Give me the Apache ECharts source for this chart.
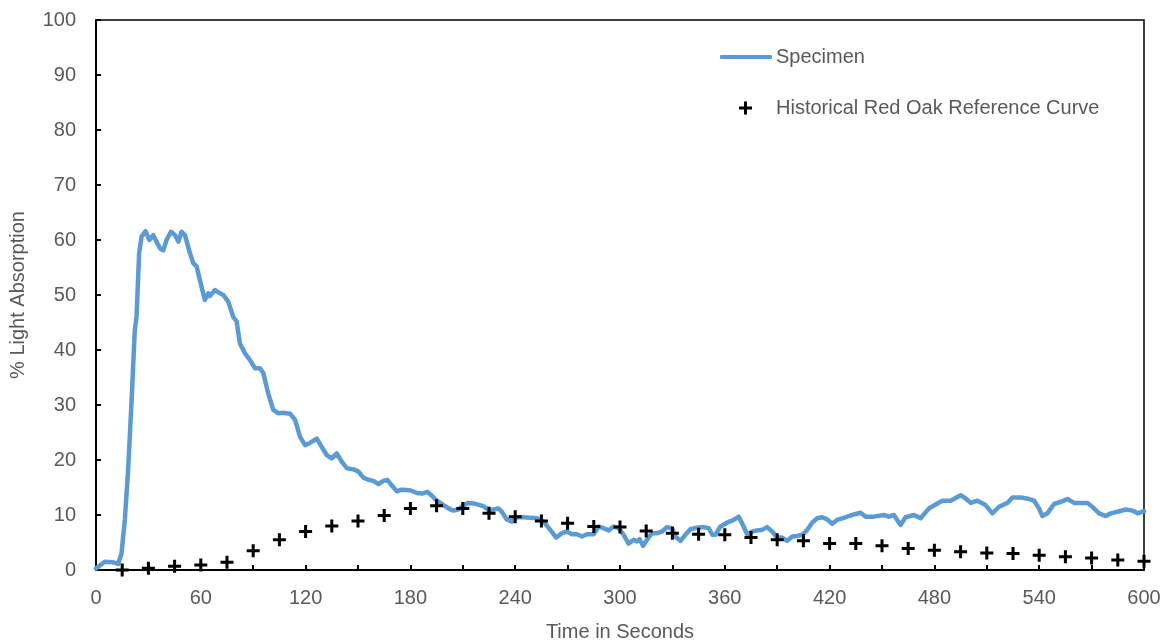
<!DOCTYPE html>
<html>
<head>
<meta charset="utf-8">
<script src="https://cdn.jsdelivr.net/npm/echarts@6/dist/echarts.min.js"></script>
<style>html,body{margin:0;padding:0;background:#fff}#c{width:1172px;height:644px}</style>
</head>
<body>
<div id="c"></div>
<script>
// Specimen curve: [time (s), % light absorption]
const specimenTimes = [0,5,9.8,12.7,14.6,16.5,18.4,20.3,22.2,23.2,24.7,26.1,28.4,30.5,32.7,36.6,38.5,40.4,42.9,45.2,47.2,49,50.9,53.8,55.7,57.6,59.5,62.3,64.3,65.2,68.1,71,72.9,75.7,78.6,80.5,82.4,85.3,88.1,91,93.9,95.8,98.6,101.5,104.4,107.2,111.1,114,116.8,119.7,122.5,126.4,129.2,132.1,135,137.8,140.7,143.6,147.4,150.2,153.1,155.9,158.8,161.7,164.5,166.8,169.3,172.2,175,179.8,183.7,186.5,189.8,192.3,195.1,199,201.8,204.6,207.5,210.4,213.2,216.1,221.8,224.7,227.6,230.4,232.3,235.2,238.1,240.9,244.7,248.6,252.4,256.2,260.1,263.5,266.8,269.6,272.5,275.4,278.2,281.1,284.9,287.8,290.6,293.5,296.3,299.2,302.1,304.9,307.8,309.7,311.2,313.2,315.5,318.3,321.2,324.1,326.9,329.8,331.7,334.6,337.4,340.3,344.1,348,350.8,352.8,354.6,357.5,361.3,365.1,368,369.9,372.8,375.7,378.5,381.4,384.2,387.1,390,392.8,395.7,398.6,401.4,404.3,407.2,410,412.9,415.8,418.6,421.5,424.3,427.2,430.1,433.9,437.7,440.6,445.3,451.1,453.9,456.8,460.6,463.5,468.3,472.1,476.9,481.7,484.5,489.3,495,497.9,500.8,504.6,509.3,513.2,517,521.8,524.7,529.4,534.2,537.1,539.9,541.8,544.7,548.5,552.3,556.2,560,563.8,567.7,571.4,574.3,578.1,581,584.8,589.6,593.4,596.3,600];
const specimenValues = [0.3,1.5,1.4,1.1,3.0,9.1,18.2,30.3,43.6,46,57.6,60.6,61.6,60,60.9,58.5,58.1,60,61.5,60.9,59.7,61.5,60.9,57.6,55.8,55.2,52.7,49.1,50.3,49.8,50.9,50.3,50,48.8,46,45.2,41.2,39.4,38.2,36.7,36.7,35.8,32.1,29.1,28.5,28.6,28.4,27.3,24.2,22.7,23.1,23.9,22.4,20.9,20.3,21.2,19.7,18.5,18.3,17.9,16.8,16.4,16.2,15.6,16.2,16.4,15.4,14.3,14.6,14.5,14.0,13.9,14.2,13.5,12.6,11.8,11.2,10.8,11,11.8,12.2,12.1,11.6,10.9,11,11.2,10.6,9.2,8.8,9.6,9.6,9.5,9.4,8.8,7.3,5.9,6.7,7.0,6.5,6.5,6.1,6.5,6.5,7.9,7.6,7.2,7.9,7.6,6.4,4.8,5.5,5.2,5.6,4.4,5.5,6.7,6.7,7.0,7.8,7.6,6.1,5.3,6.4,7.4,7.7,7.8,7.6,6.4,6.4,7.9,8.6,9.1,9.7,8.5,6.5,7.0,7.2,7.3,7.8,7.0,5.9,5.9,5.3,6.1,6.2,6.4,7.3,8.6,9.4,9.6,9.2,8.4,9.1,9.4,9.7,10.1,10.4,9.7,9.7,10.0,9.7,10.0,8.2,9.6,10.0,9.4,11.2,12.1,12.6,12.6,13.6,13.0,12.2,12.6,11.8,10.3,11.5,12.2,13.2,13.2,12.9,12.6,11.2,9.8,10.3,12,12.4,12.9,12.2,12.2,12.2,11.2,10.3,9.8,10.3,10.6,11.0,10.8,10.3,10.7];

// Historical reference curve, every 15 s
const refTimes = [15,30,45,60,75,90,105,120,135,150,165,180,195,210,225,240,255,270,285,300,315,330,345,360,375,390,405,420,435,450,465,480,495,510,525,540,555,570,585,600];
const refValues = [0,0.3,0.7,0.9,1.4,3.5,5.5,7.0,8.0,8.9,9.9,11.2,11.7,11.2,10.3,9.7,8.9,8.5,7.9,7.8,7.1,6.7,6.5,6.4,5.9,5.5,5.3,4.8,4.8,4.4,3.9,3.6,3.3,3.1,3.0,2.7,2.4,2.2,1.8,1.6];

const xLabelValues = [0,60,120,180,240,300,360,420,480,540,600];

const seriesNames = ['Specimen', 'Historical Red Oak Reference Curve'];

const plusPath = 'path://M4.6,0H7.4V12H4.6ZM0,4.6H12V7.4H0Z';
const FONT = 'Liberation Sans, Arial, sans-serif';
const TXT = '#595959';

const chart = echarts.init(document.getElementById('c'), null, {renderer: 'canvas'});
chart.setOption({
  animation: false,
  backgroundColor: '#fff',
  textStyle: {fontFamily: FONT},
  grid: {left: 96, right: 28, top: 20, bottom: 74, show: true, borderColor: '#000', borderWidth: 1.5, backgroundColor: 'transparent', outerBoundsMode: 'none', containLabel: false},
  legend: [
    {
      data: [{name: seriesNames[0], icon: 'roundRect'}],
      left: 720, top: 47, padding: 0, itemWidth: 52, itemHeight: 4,
      textStyle: {color: TXT, fontSize: 20, fontFamily: FONT, padding: [0,0,0,-1]},
      selectedMode: false
    },
    {
      data: [{name: seriesNames[1], icon: plusPath}],
      left: 739, top: 98, padding: 0, itemWidth: 13, itemHeight: 13,
      textStyle: {color: TXT, fontSize: 20, fontFamily: FONT, padding: [0,0,0,19]},
      selectedMode: false
    }
  ],
  xAxis: {
    type: 'value', min: 0, max: 600, interval: 30,
    name: 'Time in Seconds', nameLocation: 'middle', nameGap: 52,
    nameTextStyle: {color: TXT, fontSize: 20, fontFamily: FONT},
    axisLine: {show: true, onZero: false, lineStyle: {color: '#000', width: 2}},
    axisTick: {show: true, inside: true, length: 5, lineStyle: {color: '#000', width: 2}},
    axisLabel: {
      color: TXT, fontSize: 20, fontFamily: FONT, margin: 18,
      formatter: v => (xLabelValues.indexOf(v) >= 0 ? String(v) : '')
    },
    splitLine: {show: false}
  },
  yAxis: {
    type: 'value', min: 0, max: 100, interval: 10,
    name: '% Light Absorption', nameLocation: 'middle', nameGap: 68, nameRotate: 90,
    nameTextStyle: {color: TXT, fontSize: 20, fontFamily: FONT},
    axisLine: {show: true, lineStyle: {color: '#000', width: 2}},
    axisTick: {show: true, inside: true, length: 5, lineStyle: {color: '#000', width: 2}},
    axisLabel: {color: TXT, fontSize: 20, fontFamily: FONT, margin: 20},
    splitLine: {show: false}
  },
  series: [
    {
      name: seriesNames[0], type: 'line', showSymbol: false, symbol: 'none',
      data: specimenTimes.map((t, i) => [t, specimenValues[i]]),
      lineStyle: {color: '#5B9BD5', width: 4.5, cap: 'round', join: 'round'},
      itemStyle: {color: '#5B9BD5'},
      z: 2
    },
    {
      name: seriesNames[1], type: 'scatter', symbol: plusPath, symbolSize: 13,
      data: refTimes.map((t, i) => [t, refValues[i]]),
      itemStyle: {color: '#000', opacity: 1},
      z: 3
    }
  ]
});
</script>
</body>
</html>
